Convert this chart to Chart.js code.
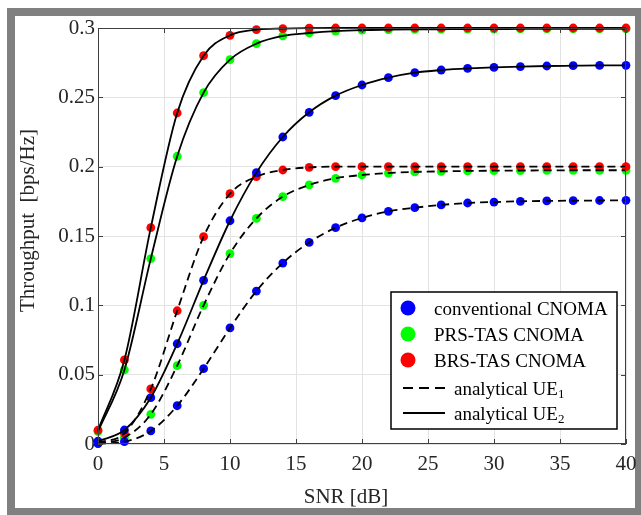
<!DOCTYPE html>
<html><head><meta charset="utf-8">
<script src="https://cdn.jsdelivr.net/npm/chart.js@4/dist/chart.umd.min.js"></script>
<style>html,body{margin:0;padding:0;background:#fff}canvas{display:block}</style>
</head><body>
<canvas id="c" width="641" height="515"></canvas>
<script>
const snrDb = [0,2,4,6,8,10,12,14,16,18,20,22,24,26,28,30,32,34,36,38,40];
const convUE2 = [0.002,0.0101,0.0334,0.0723,0.118,0.161,0.1957,0.2214,0.2392,0.2512,0.2589,0.2642,0.2678,0.2697,0.2709,0.2716,0.2722,0.2726,0.2728,0.2730,0.2731];
const prsUE2  = [0.009,0.0534,0.1337,0.2075,0.2534,0.2772,0.2887,0.2943,0.2964,0.2978,0.2985,0.2988,0.2990,0.2991,0.2992,0.2992,0.2993,0.2993,0.2993,0.2993,0.2993];
const brsUE2  = [0.0100,0.0606,0.156,0.2387,0.280,0.2947,0.2988,0.2996,0.2999,0.3,0.3,0.3,0.3,0.3,0.3,0.3,0.3,0.3,0.3,0.3,0.3];
const convUE1 = [0.0003,0.0017,0.0094,0.0276,0.0543,0.0837,0.1103,0.1305,0.1454,0.156,0.163,0.1678,0.1704,0.1724,0.1738,0.1745,0.1750,0.1753,0.1755,0.1756,0.1757];
const prsUE1  = [0.0005,0.0046,0.0214,0.0565,0.1000,0.1373,0.1627,0.1784,0.1868,0.1916,0.194,0.1954,0.1962,0.1966,0.1969,0.1971,0.1972,0.1973,0.1974,0.1974,0.1974];
const brsUE1  = [0.001,0.0077,0.0397,0.0961,0.1495,0.1805,0.1928,0.1976,0.1995,0.2,0.2,0.2,0.2,0.2,0.2,0.2,0.2,0.2,0.2,0.2,0.2];
const xTicks = [0,5,10,15,20,25,30,35,40];
const yTicks = [0,0.05,0.1,0.15,0.2,0.25,0.3];
const legendLabels = ['conventional CNOMA','PRS-TAS CNOMA','BRS-TAS CNOMA','analytical UE','analytical UE'];
const legendSubs = ['','','','1','2'];
const xTitle = 'SNR [dB]';
const yTitle = 'Throughput  [bps/Hz]';

const BLUE='#0000ff', GREEN='#00ff00', RED='#ff0000';
const FONT = '"Liberation Serif", "Times New Roman", serif';
const pts = arr => arr.map((v,i)=>({x:snrDb[i], y:v}));

function lineDs(arr, dashed){
  return {data:pts(arr), showLine:true, borderColor:'#000', borderWidth:1.8,
    borderDash: dashed?[8,5]:[], pointRadius:0, pointHoverRadius:0,
    cubicInterpolationMode:'monotone', order:0, clip:false};
}
function markDs(arr, color, order){
  return {data:pts(arr), showLine:false, backgroundColor:color, borderColor:color,
    borderWidth:0, pointRadius:4.4, pointHoverRadius:4.4, order:order, clip:false};
}

const framePlugin = {
  id:'frame',
  beforeDraw(chart){
    const ctx = chart.ctx;
    ctx.save();
    ctx.fillStyle='#fff'; ctx.fillRect(0,0,chart.width,chart.height);
    ctx.fillStyle='#808080'; ctx.fillRect(7,8,chart.width-7,chart.height-8);
    ctx.fillStyle='#fff'; ctx.fillRect(15,16,620,492);
    ctx.restore();
  },
  afterDraw(chart){
    const ctx = chart.ctx;
    const a = chart.chartArea;
    const xs = chart.scales.x, ys = chart.scales.y;
    ctx.save();
    ctx.strokeStyle='#404040'; ctx.lineWidth=1;
    ctx.beginPath();
    ctx.moveTo(a.left, a.top+0.5); ctx.lineTo(a.right, a.top+0.5);
    ctx.moveTo(a.right-0.5, a.top); ctx.lineTo(a.right-0.5, a.bottom);
    ctx.moveTo(a.left+0.5, a.top); ctx.lineTo(a.left+0.5, a.bottom);
    ctx.moveTo(a.left, a.bottom-0.5); ctx.lineTo(a.right, a.bottom-0.5);
    ctx.stroke();
    ctx.beginPath();
    xTicks.forEach(v=>{
      const px = Math.round(xs.getPixelForValue(v))+0.5;
      ctx.moveTo(px,a.bottom); ctx.lineTo(px,a.bottom-5);
      ctx.moveTo(px,a.top); ctx.lineTo(px,a.top+5);
    });
    yTicks.forEach(v=>{
      const py = Math.round(ys.getPixelForValue(v))+0.5;
      ctx.moveTo(a.left,py); ctx.lineTo(a.left+5,py);
      ctx.moveTo(a.right,py); ctx.lineTo(a.right-5,py);
    });
    ctx.stroke();
    ctx.fillStyle='#262626';
    ctx.font='21px '+FONT;
    ctx.textAlign='center'; ctx.textBaseline='alphabetic';
    ctx.fillText(xTitle, 346, 503);
    ctx.save();
    ctx.translate(34, 220.5); ctx.rotate(-Math.PI/2);
    ctx.fillText(yTitle, 0, 0);
    ctx.restore();
    const bx=391, by=292, bw=226, bh=137;
    ctx.fillStyle='#fff'; ctx.fillRect(bx,by,bw,bh);
    ctx.strokeStyle='#000'; ctx.lineWidth=1.5; ctx.setLineDash([]);
    ctx.strokeRect(bx,by,bw,bh);
    const rows=[308,334,360,388,413];
    const cols=[BLUE,GREEN,RED];
    ctx.textAlign='left';
    for(let i=0;i<5;i++){
      const ry=rows[i];
      if(i<3){
        ctx.fillStyle=cols[i];
        ctx.beginPath(); ctx.arc(408,ry,7.5,0,Math.PI*2); ctx.fill();
        ctx.fillStyle='#000'; ctx.font='19px '+FONT;
        ctx.fillText(legendLabels[i],434,ry+6.5);
      } else {
        ctx.strokeStyle='#000'; ctx.lineWidth=2;
        ctx.setLineDash(i===3?[10,6]:[]);
        ctx.beginPath(); ctx.moveTo(403,ry); ctx.lineTo(445,ry); ctx.stroke();
        ctx.setLineDash([]);
        ctx.fillStyle='#000'; ctx.font='19px '+FONT;
        ctx.fillText(legendLabels[i],454,ry+6.7);
        const w = ctx.measureText(legendLabels[i]).width;
        ctx.font='13px '+FONT;
        ctx.fillText(legendSubs[i],454+w,ry+9.5);
      }
    }
    ctx.restore();
  }
};

new Chart(document.getElementById('c'),{
  type:'scatter',
  data:{datasets:[
    lineDs(convUE1,true), lineDs(prsUE1,true), lineDs(brsUE1,true),
    lineDs(convUE2,false), lineDs(prsUE2,false), lineDs(brsUE2,false),
    markDs(convUE2,BLUE,1), markDs(convUE1,BLUE,1),
    markDs(brsUE2,RED,2), markDs(brsUE1,RED,2),
    markDs(prsUE2,GREEN,3), markDs(prsUE1,GREEN,3)
  ]},
  options:{
    responsive:false, animation:false, devicePixelRatio:1,
    layout:{padding:{left:0,right:15,top:28,bottom:0}},
    plugins:{legend:{display:false}, tooltip:{enabled:false}},
    scales:{
      x:{type:'linear', min:0, max:40,
        afterFit(s){ s.height = 71; },
        afterBuildTicks(s){ s.ticks = xTicks.map(v=>({value:v})); },
        grid:{color:'#e3e3e3', lineWidth:1, drawTicks:true, tickLength:5, tickColor:'rgba(0,0,0,0)'},
        border:{display:false},
        ticks:{padding:3, color:'#262626', font:{family:FONT, size:21}, maxRotation:0,
          callback:v=>String(v)}
      },
      y:{type:'linear', min:0, max:0.3,
        afterFit(s){ s.width = 98; },
        afterBuildTicks(s){ s.ticks = yTicks.map(v=>({value:v})); },
        grid:{color:'#e3e3e3', lineWidth:1, drawTicks:false},
        border:{display:false},
        ticks:{padding:3, color:'#262626', font:{family:FONT, size:21},
          callback:v=>String(+v.toFixed(2))}
      }
    }
  },
  plugins:[framePlugin]
});
</script>
</body></html>
